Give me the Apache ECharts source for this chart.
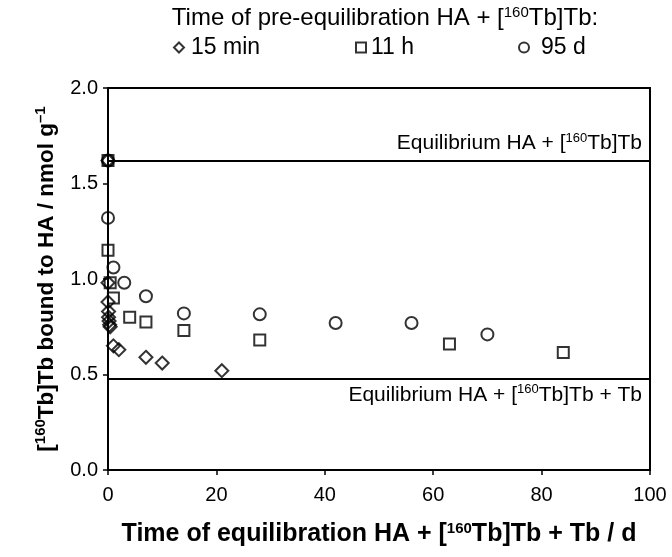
<!DOCTYPE html>
<html>
<head>
<meta charset="utf-8">
<script src="https://cdn.jsdelivr.net/npm/echarts@6/dist/echarts.min.js"></script>
<style>
  html, body { margin: 0; padding: 0; background: #fff; }
  #chart { width: 672px; height: 557px; }
</style>
</head>
<body>
<div id="chart"></div>
<script>
// pre-equilibration 15 min
var data15min = [[0, 1.62], [0, 0.98], [0, 0.88], [0.1, 0.83], [0.1, 0.80], [0.2, 0.78], [0.3, 0.76], [0.4, 0.75],
    [1, 0.65], [2, 0.63], [7, 0.59], [10, 0.56], [21, 0.52]];
// pre-equilibration 11 h
var data11h = [[0, 1.62], [0, 1.15], [0.4, 0.98], [1, 0.90], [4, 0.80], [7, 0.775], [14, 0.73], [28, 0.68], [63, 0.66], [84, 0.615]];
// pre-equilibration 95 d
var data95d = [[0, 1.62], [0, 1.32], [1, 1.06], [3, 0.98], [7, 0.91], [14, 0.82], [28, 0.815], [42, 0.77], [56, 0.77], [70, 0.71]];

var eqWithoutTb = 1.62;
var eqWithTb = 0.485;

var seriesNames = ['15 min', '11 h', '95 d'];

var font = 'Liberation Sans, Arial, sans-serif';
var supStyle = { fontSize: 15, fontFamily: font, verticalAlign: 'top', lineHeight: 16 };
var supSmall = { fontSize: 13, fontFamily: font, verticalAlign: 'top', lineHeight: 15 };
var supBold = { fontSize: 15, fontWeight: 'bold', fontFamily: font, verticalAlign: 'top', lineHeight: 16 };

var chart = echarts.init(document.getElementById('chart'));

function hollow(sym, size) {
    return {
        type: 'scatter',
        symbol: sym,
        symbolSize: size,
        itemStyle: { color: 'rgba(0,0,0,0)', borderColor: '#000', borderWidth: 2 }
    };
}

var s1 = hollow('diamond', 13); s1.name = seriesNames[0]; s1.data = data15min;
s1.markLine = {
    silent: true,
    symbol: 'none',
    lineStyle: { color: '#000', width: 2, type: 'solid' },
    data: [
        { yAxis: eqWithoutTb, label: { position: 'insideEndTop', formatter: 'Equilibrium HA + [{s|160}Tb]Tb' } },
        { yAxis: eqWithTb, label: { position: 'insideEndBottom', formatter: 'Equilibrium HA + [{s|160}Tb]Tb + Tb' } }
    ],
    label: {
        color: '#000', fontSize: 21, fontFamily: font, distance: [8, 5], lineHeight: 24,
        rich: { s: supSmall }
    }
};
var s2 = hollow('rect', 11); s2.name = seriesNames[1]; s2.data = data11h;
var s3 = hollow('circle', 12); s3.name = seriesNames[2]; s3.data = data95d;

function legendAt(left, name, pad) {
    return {
        orient: 'horizontal',
        left: left,
        top: 31,
        itemWidth: 10,
        itemHeight: 10,
        data: [name],
        textStyle: { fontSize: 23, color: '#000', fontFamily: font, padding: [0, 0, 0, pad] },
        selectedMode: false
    };
}

var option = {
    animation: false,
    title: {
        text: 'Time of pre-equilibration HA + [{s|160}Tb]Tb:',
        left: 380,
        textAlign: 'center',
        top: 0,
        textStyle: {
            fontSize: 24, fontWeight: 'normal', color: '#000', fontFamily: font, lineHeight: 27,
            rich: { s: supStyle }
        }
    },
    legend: [
        legendAt(168, seriesNames[0], 2),
        legendAt(350, seriesNames[1], 0),
        legendAt(513, seriesNames[2], 7)
    ],
    grid: {
        left: 108, right: 22, top: 88, bottom: 87,
        show: true, borderColor: '#000', borderWidth: 2, backgroundColor: 'transparent'
    },
    xAxis: {
        type: 'value',
        min: 0, max: 100, interval: 20,
        name: 'Time of equilibration HA + [{s|160}Tb]Tb + Tb / d',
        nameLocation: 'middle',
        nameGap: 51,
        nameTextStyle: {
            fontSize: 25, fontWeight: 'bold', color: '#000', fontFamily: font, lineHeight: 27,
            rich: { s: supBold }
        },
        axisLine: { show: true, lineStyle: { color: '#000', width: 2 } },
        axisTick: { show: true, inside: false, length: 5, lineStyle: { color: '#000', width: 1.5 } },
        axisLabel: { fontSize: 20, color: '#000', fontFamily: font, margin: 15 },
        splitLine: { show: false }
    },
    yAxis: {
        type: 'value',
        min: 0, max: 2, interval: 0.5,
        name: '[{s|160}Tb]Tb bound to HA / nmol g{s|–1}',
        nameLocation: 'middle',
        nameGap: 42,
        nameTextStyle: {
            fontSize: 22.5, fontWeight: 'bold', color: '#000', fontFamily: font, lineHeight: 26,
            rich: { s: supBold }
        },
        axisLine: { show: true, lineStyle: { color: '#000', width: 2 } },
        axisTick: { show: true, inside: false, length: 5, lineStyle: { color: '#000', width: 1.5 } },
        axisLabel: {
            fontSize: 20, color: '#000', fontFamily: font, margin: 10,
            formatter: function (v) { return v.toFixed(1); }
        },
        splitLine: { show: false }
    },
    series: [s1, s2, s3]
};

chart.setOption(option);

window.addEventListener('resize', function () {
    chart.resize();
});
</script>
</body>
</html>
